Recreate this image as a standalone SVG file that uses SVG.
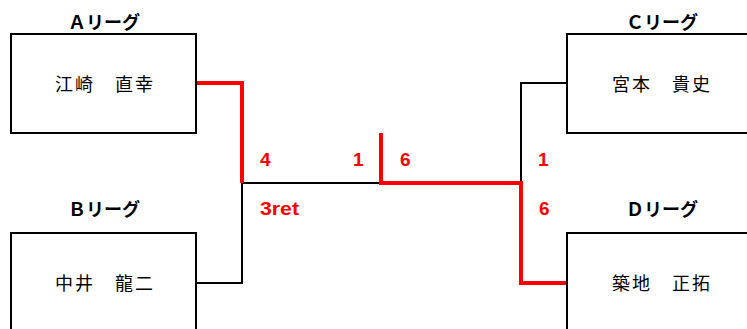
<svg xmlns="http://www.w3.org/2000/svg" width="747" height="329" viewBox="0 0 747 329">
<style>
.box{fill:#fff;stroke:#000;stroke-width:2}
.lg{font-family:"Noto Sans CJK JP","Liberation Sans",sans-serif;font-weight:bold;font-size:18px;text-anchor:middle;fill:#000}
.nm{font-family:"Noto Sans CJK JP",sans-serif;font-size:18px;letter-spacing:2px;text-anchor:middle;fill:#000}
.bl{fill:none;stroke:#000;stroke-width:2}
.rd{fill:none;stroke:#f00;stroke-width:4}
.sc{font-family:"Liberation Sans",Arial,sans-serif;font-weight:bold;font-size:19px;fill:#f00}
</style>
<rect width="747" height="329" fill="#fff"/>
<g id="connectors">
<path class="bl" d="M242 183H380M242 183V283H196"/>
<path class="bl" d="M521 183V83H567"/>
<path class="rd" d="M196 83H242V183"/>
<path class="rd" d="M381 133V183H521V283H567"/>
</g>
<g id="nodeA">
<text class="lg" x="104" y="29">Ａリーグ</text>
<rect class="box" x="11" y="34" width="185" height="99"/>
<text class="nm" x="105" y="91">江崎　直幸</text>
</g>
<g id="nodeB">
<text class="lg" x="104" y="216">Ｂリーグ</text>
<rect class="box" x="11" y="233" width="185" height="110"/>
<text class="nm" x="105" y="290">中井　龍二</text>
</g>
<g id="nodeC">
<text class="lg" x="662" y="29">Ｃリーグ</text>
<rect class="box" x="567" y="34" width="190" height="99"/>
<text class="nm" x="662" y="91">宮本　貴史</text>
</g>
<g id="nodeD">
<text class="lg" x="662" y="216">Ｄリーグ</text>
<rect class="box" x="567" y="233" width="190" height="110"/>
<text class="nm" x="662" y="290">築地　正拓</text>
</g>
<g id="scores">
<text class="sc" x="260" y="166">4</text>
<text class="sc" x="353" y="166">1</text>
<text class="sc" x="400" y="166">6</text>
<text class="sc" x="538" y="166">1</text>
<text class="sc" x="539" y="215">6</text>
<text class="sc" x="260" y="215" textLength="39" lengthAdjust="spacingAndGlyphs">3ret</text>
</g>
</svg>
